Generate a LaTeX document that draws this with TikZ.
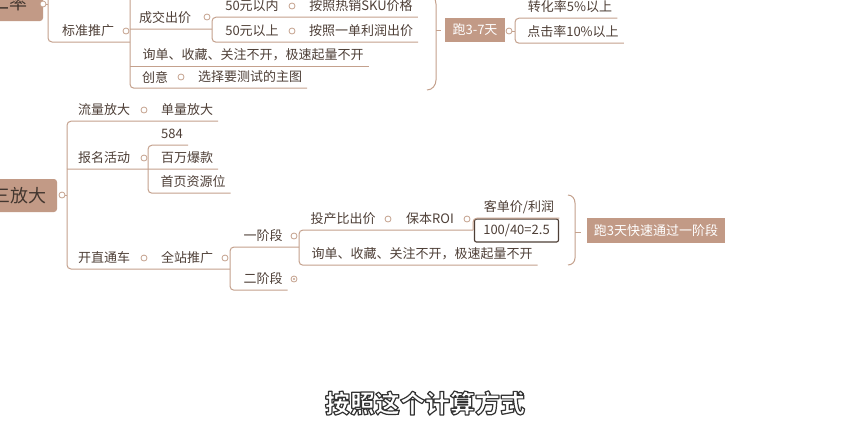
\documentclass[tikz,border=0pt]{standalone}
\usepackage{fontspec}
\setmainfont{Noto Sans CJK SC}
\usepackage{xcolor}
\usepackage{tikz}
\usetikzlibrary{positioning}
\definecolor{mink}{HTML}{4E3F37}
\definecolor{mline}{HTML}{C4A18D}
\definecolor{mfill}{HTML}{C29A86}
\tikzset{
  mlink/.style={mline, line width=1pt},
  mbrack/.style={mlink, rounded corners=4pt},
  mtopic/.style={text=mink, font=\fontsize{13}{15}\selectfont, inner xsep=5pt,
                 inner ysep=0pt, minimum height=22pt},
  mroot/.style={rounded corners=3pt, fill=mfill, text=mink!85!black,
                font=\fontsize{18}{20}\selectfont, inner sep=0pt},
  mtag/.style={fill=mfill, text=white, font=\fontsize{13}{15}\selectfont,
               inner sep=0pt, minimum height=24pt},
  mdot/.style={circle, draw=mline, fill=white, line width=0.8pt,
               minimum size=6pt, inner sep=0pt},
  mdotc/.style={mdot, path picture={\fill[mline] (path picture bounding box.center) circle (1.2pt);}},
  mcalc/.style={rounded corners=2pt, draw=mink, line width=1.2pt, fill=white, text=mink,
                font=\fontsize{13}{15}\selectfont, minimum width=84pt, minimum height=23pt},
  mcap/.style={text=white, font=\fontsize{25}{28}\selectfont\bfseries},
}
% white letters with a dark rim
\newcommand\rimtext[1]{\special{pdf:literal direct q 2 Tr 1.2 w 1 j 0.2 0.2 0.2 RG}#1\special{pdf:literal direct Q}}

\begin{document}
\begin{tikzpicture}[x=1pt,y=-1pt]

  \useasboundingbox (0,0) rectangle (854,440);
  \fill[white] (0,0) rectangle (854,440);
  \clip (0,0) rectangle (854,440);

  % --- 二率 ---
  \node[mroot, minimum width=68pt, minimum height=36pt] (r1) at (9,3) {二率};
  \node[mdot] (r1o) at (43,4) {};
  \coordinate (sp1) at (48,4);
  \coordinate (up1) at (48,-10);
  \node[mtopic] (bztg) at (88,31) {标准推广};
  \node[mdot] (bztgo) at (126,31) {};
  \coordinate (bzsp) at (130,42);
  \coordinate (up2) at (130,-10);
  \node[mtopic] (cjcj) at (165,18) {成交出价};
  \node[mdot] (cjcjo) at (207,17) {};
  \coordinate (cjsp) at (212,29);
  \node[mtopic] (yn50) at (252,6) {50元以内};
  \node[mdot] (yn50o) at (292,6) {};
  \node[mtopic] (rxsku) at (361,6) {按照热销SKU价格};
  \node[mtopic] (ys50) at (252,31) {50元以上};
  \node[mdot] (ys50o) at (292,31) {};
  \node[mtopic] (ydlr) at (361,31) {按照一单利润出价};
  \node[mtopic] (xd1) at (253,55) {询单、收藏、关注不开，极速起量不开};
  \node[mtopic] (cy) at (155,77) {创意};
  \node[mdot] (cyo) at (181,77) {};
  \node[mtopic] (xzzt) at (250,77) {选择要测试的主图};

  \draw[mlink] (r1o) -- (sp1);
  \draw[mbrack] (up1) |- (bzsp);
  \draw[mbrack] (up2) |- (xzzt.south east);
  \draw[mlink] (xd1.south -| bzsp) -- (xd1.south east);
  \draw[mlink] (cjcj.south -| bzsp) -- (cjsp);
  \draw[mbrack] (rxsku.south east) -| (cjsp) |- (ydlr.south east);

  \draw[mlink] (427,-6) to[out=0,in=90] (436,4) -- (436,80) to[out=-90,in=0] (427,90);
  \draw[mlink] (436,30) -- (441,30);
  \node[mtag, minimum width=60pt] (tag1) at (475,30) {跑3-7天};
  \node[mdot] (tag1o) at (509,31) {};
  \coordinate (t1sp) at (515,31);
  \node[mtopic] (zhl) at (570,7) {转化率5\%以上};
  \node[mtopic] (djl) at (573,32) {点击率10\%以上};
  \draw[mlink] (tag1o) -- (t1sp);
  \draw[mbrack] (zhl.south east) -| (t1sp) |- (djl.south east);

  % --- 三放大 ---
  \node[mroot, minimum width=75pt, minimum height=33pt] (r2) at (19.5,195.5) {三放大};
  \node[mdot] (r2o) at (62,195) {};
  \coordinate (sp2) at (67,195);
  \node[mtopic] (llfd) at (104,110) {流量放大};
  \node[mdot] (llfdo) at (144,110) {};
  \node[mtopic] (dlfd) at (187,110) {单量放大};
  \node[mtopic] (bmhd) at (104,158) {报名活动};
  \node[mdot] (bmhdo) at (144,158) {};
  \coordinate (bmsp) at (148,169);
  \node[mtopic] (n584) at (172,134) {584};
  \node[mtopic] (bwbk) at (187,158) {百万爆款};
  \node[mtopic] (syzy) at (193,182) {首页资源位};
  \node[mtopic] (kztc) at (104,258) {开直通车};
  \node[mdot] (kztco) at (144,258) {};
  \node[mtopic] (qztg) at (187,258) {全站推广};
  \node[mdot] (qztgo) at (225,258) {};
  \coordinate (qzsp) at (230,269);
  \node[mtopic] (yjd) at (263,236) {一阶段};
  \node[mdot] (yjdo) at (294,236) {};
  \coordinate (yjsp) at (299,247);
  \node[mtopic] (ejd) at (263,279) {二阶段};
  \node[mdotc] (ejdo) at (294,279) {};
  \node[mtopic] (tcbc) at (343,219) {投产比出价};
  \node[mdot] (tcbco) at (388,219) {};
  \node[mtopic] (bbroi) at (430,219) {保本ROI};
  \node[mdot] (bbroio) at (467,219) {};
  \coordinate (bbsp) at (473,230);
  \node[mtopic] (kdj) at (519,207) {客单价/利润};
  \node[mcalc] (calc) at (516.5,230.5) {100/40=2.5};
  \node[mtopic] (xd2) at (422,254) {询单、收藏、关注不开，极速起量不开};

  \draw[mlink] (r2o) -- (sp2);
  \draw[mbrack] (dlfd.south east) -| (sp2) |- (qzsp);
  \draw[mlink] (bmhd.south -| sp2) -- (bmsp);
  \draw[mbrack] (n584.south east) -| (bmsp) |- (syzy.south east);
  \draw[mlink] (bmsp) -- (bwbk.south east);
  \draw[mbrack] (yjsp) -| (qzsp) |- (ejd.south east);
  \draw[mbrack] (bbsp) -| (yjsp) |- (xd2.south east);
  \draw[mbrack] (kdj.south east) -| (bbsp);

  \draw[mlink] (568,195) to[out=0,in=90] (575,203) -- (575,258) to[out=-90,in=0] (568,265);
  \draw[mlink] (575,232) -- (581,232);
  \node[mtag, minimum width=138pt, minimum height=25pt] (tag2) at (656,230.5) {跑3天快速通过一阶段};

  \node[mcap] (cap) at (425,403) {\rimtext{按照这个计算方式}};

\end{tikzpicture}
\end{document}
